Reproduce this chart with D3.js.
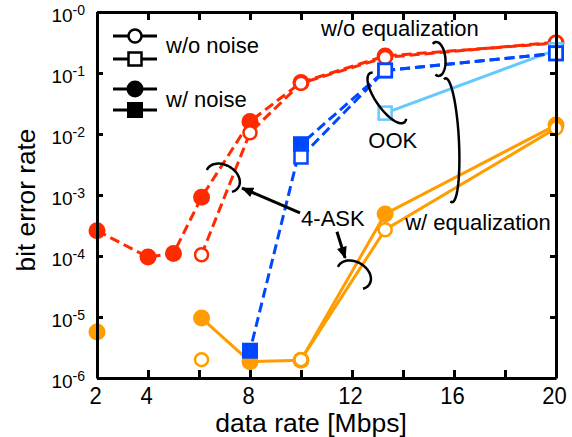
<!DOCTYPE html>
<html>
<head>
<meta charset="utf-8">
<script src="https://cdn.jsdelivr.net/npm/d3@7"></script>
<style>
body { margin: 0; background: #fff; }
svg { display: block; font-family: "Liberation Sans", Arial, sans-serif; }
</style>
</head>
<body>
<svg id="chart" width="572" height="437"></svg>
<script>
// data rates [Mbps]
let rates = [2, 4, 5, 6.1, 8, 10, 13.3, 20];

// bit error rates, null = no errors measured
let askNoEqNoise = [2.6e-4, 9.6e-5, 1.1e-4, 9.2e-4, 1.6e-2, 7.0e-2, 1.9e-1, 3.1e-1];
let askNoEqClean = [null, null, null, 1.05e-4, 1.05e-2, 6.8e-2, 1.8e-1, 3.2e-1];
let askEqNoise = [5.7e-6, null, null, 9.6e-6, 1.85e-6, 1.95e-6, 4.9e-4, 1.4e-2];
let askEqClean = [null, null, null, 2.0e-6, null, 2.0e-6, 2.7e-4, 1.25e-2];
let ookEqClean = [null, null, null, null, null, null, 2.2e-2, 2.4e-1];
let ookNoEqNoise = [null, null, null, null, 2.8e-6, 6.8e-3, 1.1e-1, 2.1e-1];
let ookNoEqClean = [null, null, null, null, null, 4.2e-3, 1.1e-1, 2.1e-1];

let xTicks = [2, 4, 6, 8, 10, 12, 14, 16, 18, 20];
let xTickLabels = [2, 4, 8, 12, 16, 20];
let yTicks = [1, 1e-1, 1e-2, 1e-3, 1e-4, 1e-5, 1e-6];

let legendLabels = ["w/o noise", "w/ noise"];

// annotation brackets (centre in data units)
let brackets = [
    { x: 6.94, y: 1.9e-3, rx: 18, ry: 13, rot: 30, a0: 175, a1: 395 },
    { x: 12.08, y: 4.9e-5, rx: 18, ry: 13, rot: 30, a0: 175, a1: 395 },
    { x: 15.35, y: 0.17, rx: 8, ry: 17, rot: -5, a0: -115, a1: 115 },
    { x: 15.8, y: 7.9e-3, rx: 10, ry: 62, rot: -3, a0: -100, a1: 100 },
    { x: 13.37, y: 0.039, rx: 30, ry: 11, rot: 55, a0: 195, a1: -20 }
];
let arrows = [
    { x0: 9.96, y0: 5.1e-4, x1: 7.69, y1: 1.3e-3 },
    { x0: 11.41, y0: 2.5e-4, x1: 11.73, y1: 9.3e-5 }
];
let notes = [
    { text: "w/o equalization", x: 13.88, y: 0.405 },
    { text: "OOK", x: 13.6, y: 5.9e-3 },
    { text: "w/ equalization", x: 16.94, y: 2.7e-4 },
    { text: "4-ASK", x: 11.25, y: 3.1e-4 }
];

let red = "#ff2a00", orange = "#ff9d00", blue = "#0048ff", lightBlue = "#66c8ff";

// align: dash pattern starts at the 13.3 Mbps point so overlapping dashes coincide
let series = [
    { vals: askNoEqNoise, color: red, dash: true, shape: "circle", filled: true },
    { vals: askNoEqClean, color: red, dash: true, shape: "circle", filled: false },
    { vals: askEqNoise, color: orange, dash: false, shape: "circle", filled: true },
    { vals: askEqClean, color: orange, dash: false, shape: "circle", filled: false },
    { vals: ookEqClean, color: lightBlue, dash: false, shape: "square", filled: false },
    { vals: ookNoEqNoise, color: blue, dash: true, shape: "square", filled: true, align: true },
    { vals: ookNoEqClean, color: blue, dash: true, shape: "square", filled: false, align: true }
];

let mLeft = 97, mRight = 556, mTop = 12, mBottom = 378;

let svg = d3.select("#chart");

let x = d3.scaleLinear().domain([2, 20]).range([mLeft, mRight]);
let y = d3.scaleLog().domain([1e-6, 1]).range([mBottom, mTop]);

svg.append("defs").append("marker")
    .attr("id", "head")
    .attr("markerUnits", "userSpaceOnUse")
    .attr("viewBox", "0 -5 12 10")
    .attr("refX", 11)
    .attr("refY", 0)
    .attr("markerWidth", 13)
    .attr("markerHeight", 10)
    .attr("orient", "auto")
    .append("path")
    .attr("d", "M0,-5L12,0L0,5Z")
    .attr("fill", "black");

//draw one symbol
function symbol(g, shape, filled, color, cx, cy) {
    if (shape == "circle") {
        g.append("circle")
            .attr("cx", cx).attr("cy", cy)
            .attr("r", filled ? 8.5 : 6.5)
            .attr("fill", filled ? color : "white")
            .attr("stroke", color)
            .attr("stroke-width", filled ? 0 : 2.5);
    } else {
        let s = filled ? 16 : 13;
        g.append("rect")
            .attr("x", cx - s / 2).attr("y", cy - s / 2)
            .attr("width", s).attr("height", s)
            .attr("fill", filled ? color : "white")
            .attr("stroke", color)
            .attr("stroke-width", filled ? 0 : 2.5);
    }
}

//series
let line = d3.line()
    .defined(d => d.v != null)
    .x(d => x(d.r))
    .y(d => y(d.v));

let plot = svg.append("g");
series.forEach(function(s) {
    let pts = rates.map((r, i) => ({ r: r, v: s.vals[i] }));
    let offset = 0;
    if (s.align) {
        //length of the path up to the 13.3 Mbps point
        let shown = pts.filter(d => d.v != null);
        let stop = shown.findIndex(d => d.r == 13.3);
        for (let i = 1; i <= stop; i++) {
            offset += Math.hypot(x(shown[i].r) - x(shown[i - 1].r), y(shown[i].v) - y(shown[i - 1].v));
        }
    }
    plot.append("path")
        .attr("d", line(pts))
        .attr("fill", "none")
        .attr("stroke", s.color)
        .attr("stroke-width", 3)
        .attr("stroke-dasharray", s.dash ? "10,5" : null)
        .attr("stroke-dashoffset", -offset);
    let g = plot.append("g");
    pts.filter(d => d.v != null).forEach(function(d) {
        symbol(g, s.shape, s.filled, s.color, x(d.r), y(d.v));
    });
});

//axes
let xAxis = svg.append("g")
    .attr("transform", `translate(0,${mBottom})`)
    .call(d3.axisBottom(x).tickValues(xTicks).tickSizeInner(-8).tickSizeOuter(0)
        .tickFormat(d => xTickLabels.includes(d) ? d : ""));
xAxis.selectAll("text")
    .attr("y", 0).attr("dy", 0)
    .attr("transform", "translate(-2,26) scale(1,1.06)")
    .style("font-size", "22px")
    .attr("fill", "black");

svg.append("g")
    .attr("transform", `translate(0,${mTop})`)
    .call(d3.axisTop(x).tickValues(xTicks).tickSizeInner(-8).tickSizeOuter(0).tickFormat(""));

let yAxis = svg.append("g")
    .attr("transform", `translate(${mLeft},0)`)
    .call(d3.axisLeft(y).tickValues(yTicks).tickSizeInner(-6).tickSizeOuter(0).tickFormat(""));

svg.append("g")
    .attr("transform", `translate(${mRight},0)`)
    .call(d3.axisRight(y).tickValues(yTicks).tickSizeInner(-6).tickSizeOuter(0).tickFormat(""));

svg.selectAll(".domain").attr("stroke", "black").attr("stroke-width", 3);
svg.selectAll(".tick line").attr("stroke", "black").attr("stroke-width", 3);

//y tick labels 10^-n
yAxis.selectAll(".tick").each(function(d) {
    let t = d3.select(this).append("text")
        .attr("x", -12)
        .attr("y", 9)
        .attr("text-anchor", "end")
        .attr("fill", "black");
    t.append("tspan").style("font-size", "19px").text("10");
    t.append("tspan").style("font-size", "14px").attr("dy", -7)
        .text("-" + Math.round(-Math.log10(d)));
});

//axis titles
svg.append("text")
    .attr("x", 311)
    .attr("y", 431.5)
    .attr("text-anchor", "middle")
    .style("font-size", "26.5px")
    .text("data rate [Mbps]");

svg.append("text")
    .attr("transform", "translate(35,200) rotate(-90) scale(1.05,1)")
    .attr("text-anchor", "middle")
    .style("font-size", "25px")
    .text("bit error rate");

//legend
let legend = svg.append("g");
let rowY = [36, 59, 89, 110];
[["circle", false], ["square", false], ["circle", true], ["square", true]].forEach(function(m, i) {
    legend.append("line")
        .attr("x1", 113).attr("x2", 157)
        .attr("y1", rowY[i]).attr("y2", rowY[i])
        .attr("stroke", "black").attr("stroke-width", 3);
    symbol(legend, m[0], m[1], "black", 135, rowY[i]);
});
legend.selectAll("text")
    .data(legendLabels)
    .enter()
    .append("text")
    .attr("x", 166)
    .attr("y", (d, i) => i == 0 ? 53 : 107)
    .style("font-size", "22px")
    .text(d => d);

//annotations
let ann = svg.append("g");

brackets.forEach(function(b) {
    let cx = x(b.x), cy = y(b.y), r = b.rot * Math.PI / 180;
    let pts = d3.range(41).map(function(i) {
        let t = (b.a0 + (b.a1 - b.a0) * i / 40) * Math.PI / 180;
        let lx = b.rx * Math.cos(t), ly = b.ry * Math.sin(t);
        return [cx + lx * Math.cos(r) - ly * Math.sin(r), cy + lx * Math.sin(r) + ly * Math.cos(r)];
    });
    ann.append("path")
        .attr("d", d3.line()(pts))
        .attr("fill", "none")
        .attr("stroke", "black")
        .attr("stroke-width", 2.5);
});

arrows.forEach(function(a) {
    ann.append("line")
        .attr("x1", x(a.x0)).attr("y1", y(a.y0))
        .attr("x2", x(a.x1)).attr("y2", y(a.y1))
        .attr("stroke", "black")
        .attr("stroke-width", 3)
        .attr("marker-end", "url(#head)");
});

ann.selectAll("text.note")
    .data(notes)
    .enter()
    .append("text")
    .attr("class", "note")
    .attr("x", d => x(d.x))
    .attr("y", d => y(d.y))
    .attr("text-anchor", "middle")
    .style("font-size", "22px")
    .text(d => d.text);
</script>
</body>
</html>
